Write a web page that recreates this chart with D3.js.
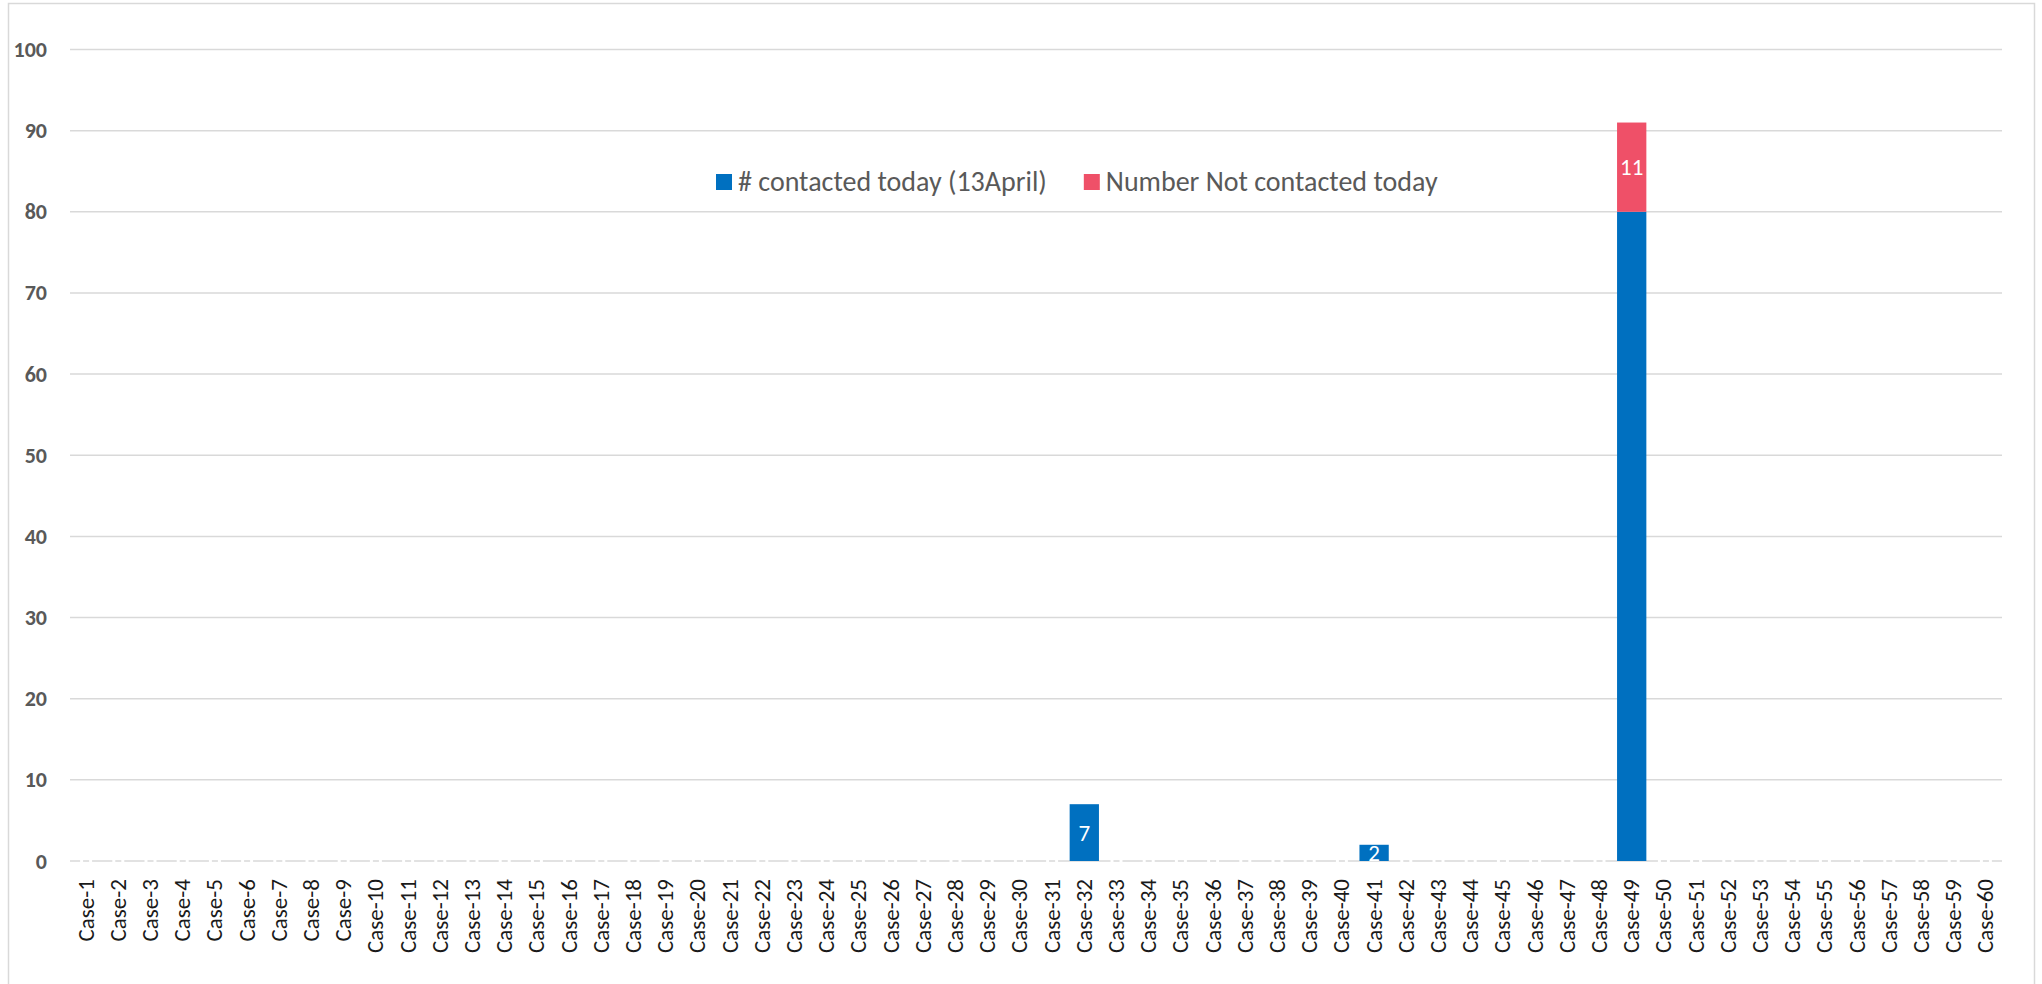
<!DOCTYPE html>
<html>
<head>
<meta charset="utf-8">
<script src="https://cdn.jsdelivr.net/npm/d3@7"></script>
<style>
  body { margin: 0; background: #fff; }
  svg { display: block; font-family: Carlito, Calibri, "Open Sans", sans-serif; }
</style>
</head>
<body>
<div id="chart"></div>
<script>
// categories
var cases = ["Case-1","Case-2","Case-3","Case-4","Case-5","Case-6","Case-7","Case-8","Case-9","Case-10",
  "Case-11","Case-12","Case-13","Case-14","Case-15","Case-16","Case-17","Case-18","Case-19","Case-20",
  "Case-21","Case-22","Case-23","Case-24","Case-25","Case-26","Case-27","Case-28","Case-29","Case-30",
  "Case-31","Case-32","Case-33","Case-34","Case-35","Case-36","Case-37","Case-38","Case-39","Case-40",
  "Case-41","Case-42","Case-43","Case-44","Case-45","Case-46","Case-47","Case-48","Case-49","Case-50",
  "Case-51","Case-52","Case-53","Case-54","Case-55","Case-56","Case-57","Case-58","Case-59","Case-60"];

// series values
var contacted = [0,0,0,0,0,0,0,0,0,0, 0,0,0,0,0,0,0,0,0,0, 0,0,0,0,0,0,0,0,0,0,
                 0,7,0,0,0,0,0,0,0,0, 2,0,0,0,0,0,0,0,80,0, 0,0,0,0,0,0,0,0,0,0];
var notContacted = [0,0,0,0,0,0,0,0,0,0, 0,0,0,0,0,0,0,0,0,0, 0,0,0,0,0,0,0,0,0,0,
                    0,0,0,0,0,0,0,0,0,0, 0,0,0,0,0,0,0,0,11,0, 0,0,0,0,0,0,0,0,0,0];

var seriesNames = ["# contacted today (13April)", "Number Not contacted today"];
var seriesKeys = ["contacted", "notContacted"];
var colors = ["#0070C0", "#EF5068"];
var yTicks = [0,10,20,30,40,50,60,70,80,90,100];
// labels Excel did not show
var hiddenLabels = ["Case-49|contacted"];

var W = 2042, H = 984;
var margin = { top: 49.5, right: 40, bottom: 123, left: 70 };
var font = "Carlito, Calibri, 'Open Sans', sans-serif";

var svg = d3.select("#chart").append("svg")
    .attr("width", W).attr("height", H);

// outer chart border
svg.append("rect")
    .attr("x", 8.5).attr("y", 3.5)
    .attr("width", 2026).attr("height", 1000)
    .attr("fill", "none").attr("stroke", "#d9d9d9").attr("stroke-width", 1.5);

var rows = cases.map(function (c, i) {
    return { name: c, contacted: contacted[i], notContacted: notContacted[i] };
});

var x = d3.scaleBand()
    .domain(cases)
    .range([margin.left, W - margin.right])
    .paddingInner(0.09)
    .paddingOuter(0.045);

var y = d3.scaleLinear()
    .domain([0, 100])
    .range([H - margin.bottom, margin.top]);

// gridlines
svg.append("g")
    .selectAll("line")
    .data(yTicks)
    .enter().append("line")
    .attr("x1", margin.left).attr("x2", W - margin.right)
    .attr("y1", function (d) { return y(d); })
    .attr("y2", function (d) { return y(d); })
    .attr("stroke", "#d9d9d9")
    .attr("stroke-width", 1.5);

// little breaks in the zero line under empty cases
svg.append("g")
    .selectAll("g")
    .data(rows.filter(function (d) { return d.contacted + d.notContacted === 0; }))
    .enter().append("g")
    .each(function (d) {
        var cx = x(d.name) + x.bandwidth() / 2;
        d3.select(this).selectAll("line").data([-4.5, 4.5]).enter().append("line")
            .attr("x1", function (o) { return cx + o - 1.5; })
            .attr("x2", function (o) { return cx + o + 1.5; })
            .attr("y1", y(0)).attr("y2", y(0))
            .attr("stroke", "#fff").attr("stroke-width", 3);
    });

// y axis
var yAxis = svg.append("g")
    .attr("transform", "translate(" + margin.left + ",0)")
    .call(d3.axisLeft(y).tickValues(yTicks).tickSize(0).tickPadding(23));
yAxis.select(".domain").remove();
yAxis.selectAll("text")
    .style("font-family", font)
    .style("font-size", "22px")
    .style("font-weight", "bold")
    .attr("fill", "#595959");

// x axis
var xAxis = svg.append("g")
    .attr("transform", "translate(0," + y(0) + ")")
    .call(d3.axisBottom(x).tickSize(0));
xAxis.select(".domain").remove();
xAxis.selectAll("text")
    .attr("transform", "rotate(-90)")
    .attr("x", -18)
    .attr("y", 0)
    .attr("dy", "0.33em")
    .attr("text-anchor", "end")
    .style("font-family", font)
    .style("font-size", "23px")
    .attr("fill", "#1a1a1a");

// stacked bars
var stack = d3.stack().keys(seriesKeys)(rows);

var layers = svg.append("g")
    .selectAll("g")
    .data(stack)
    .enter().append("g")
    .attr("fill", function (d, i) { return colors[i]; });

layers.selectAll("rect")
    .data(function (d) { return d.filter(function (p) { return p[1] - p[0] > 0; }); })
    .enter().append("rect")
    .attr("x", function (d) { return x(d.data.name); })
    .attr("y", function (d) { return y(d[1]); })
    .attr("width", x.bandwidth())
    .attr("height", function (d) { return y(d[0]) - y(d[1]); });

// data labels
layers.each(function (layer) {
    var key = layer.key;
    d3.select(this).selectAll("text")
        .data(layer.filter(function (p) {
            return p[1] - p[0] > 0 && hiddenLabels.indexOf(p.data.name + "|" + key) < 0;
        }))
        .enter().append("text")
        .attr("x", function (d) { return x(d.data.name) + x.bandwidth() / 2; })
        .attr("y", function (d) { return (y(d[0]) + y(d[1])) / 2; })
        .attr("dy", "0.35em")
        .attr("text-anchor", "middle")
        .attr("fill", "#fff")
        .style("font-family", font)
        .style("font-size", "23px")
        .text(function (d) { return d[1] - d[0]; });
});

// legend
var legend = svg.append("g").attr("transform", "translate(716,182)");
var lx = 0;
seriesNames.forEach(function (name, i) {
    legend.append("rect")
        .attr("x", lx).attr("y", -8)
        .attr("width", 16).attr("height", 16)
        .attr("fill", colors[i]);
    var t = legend.append("text")
        .attr("x", lx + 22).attr("y", 0)
        .attr("dy", "0.33em")
        .attr("fill", "#595959")
        .style("font-family", font)
        .style("font-size", "28px")
        .text(name);
    lx += 22 + t.node().getComputedTextLength() + 37;
});
</script>
</body>
</html>
